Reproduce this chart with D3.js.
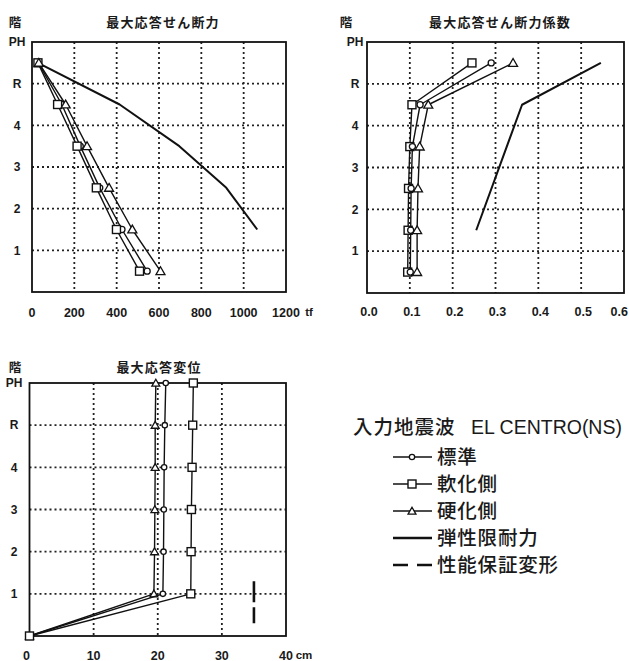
<!DOCTYPE html>
<html><head><meta charset="utf-8">
<script src="https://cdn.jsdelivr.net/npm/d3@7"></script>
<style>
body{margin:0;background:#fff}
svg{display:block}
text{font-family:"Liberation Sans",Arial,sans-serif;fill:#1a1a1a}
.jp{font-family:"Noto Sans CJK JP",sans-serif}
</style></head><body>
<svg id="c" width="629" height="661"></svg>
<script>
// ---------- DATA ----------
const floorLabels = ["1","2","3","4","R","PH"];          // floor lines 1..6
// 最大応答せん断力 (tf) : storeys 1F .. PH (bottom -> top)
const shearStd     = [544, 425, 320, 228, 141, 30];
const shearSoft    = [508, 399, 304, 213, 121, 28];
const shearHard    = [607, 474, 364, 260, 159, 32];
const shearElastic = [null, 1064, 918, 696, 414, 28];
const shearTicks   = [0, 200, 400, 600, 800, 1000, 1200];
// 最大応答せん断力係数
const coefStd     = [0.101, 0.102, 0.103, 0.106, 0.124, 0.290];
const coefSoft    = [0.095, 0.096, 0.097, 0.100, 0.105, 0.245];
const coefHard    = [0.117, 0.117, 0.119, 0.123, 0.143, 0.341];
const coefElastic = [null, 0.255, null, null, 0.362, 0.546];
const coefTicks   = [0.0, 0.1, 0.2, 0.3, 0.4, 0.5, 0.6];
// 最大応答変位 (cm) : floors 0(ground), 1, 2, 3, 4, R, PH
const dispStd  = [0, 20.8, 20.9, 20.95, 21.0, 21.1, 21.25];
const dispSoft = [0, 25.15, 25.2, 25.25, 25.35, 25.45, 25.55];
const dispHard = [0, 19.4, 19.5, 19.55, 19.6, 19.6, 19.7];
const dispLimitX = 35, dispLimitFrom = 0.3, dispLimitTo = 1.3;   // 性能保証変形
const dispTicks = [0, 10, 20, 30, 40];

const legendTitleJp = "入力地震波";
const legendTitleEn = "EL CENTRO(NS)";
const legendItems = [
  {label:"標準", marker:"circle"},
  {label:"軟化側", marker:"square"},
  {label:"硬化側", marker:"triangle"},
  {label:"弾性限耐力", marker:null},
  {label:"性能保証変形", marker:"dash"}
];

// ---------- DRAWING ----------
const svg = d3.select("#c");

function marker(g, type, x, y, s) {
  if (type === "circle") {
    g.append("circle").attr("cx", x).attr("cy", y).attr("r", s*0.38)
      .attr("fill", "#fff").attr("stroke", "#111").attr("stroke-width", 1.3);
  } else if (type === "square") {
    g.append("rect").attr("x", x - s/2).attr("y", y - s/2).attr("width", s).attr("height", s)
      .attr("fill", "#fff").attr("stroke", "#111").attr("stroke-width", 1.4);
  } else if (type === "triangle") {
    g.append("path").attr("d", d3.symbol(d3.symbolTriangle, s*s*0.55)())
      .attr("transform", `translate(${x},${y+0.8})`)
      .attr("fill", "#fff").attr("stroke", "#111").attr("stroke-width", 1.3);
  }
}

function panel(o) {
  const g = svg.append("g");
  const x = d3.scaleLinear().domain(o.xDomain).range([o.left, o.right]);
  const y = d3.scaleLinear().domain([0, 6]).range([o.bottom, o.top]);
  // grid
  const grid = g.append("g").attr("stroke", "#222").attr("stroke-width", 1.8)
    .attr("stroke-dasharray", "2,3");
  o.xGrid.forEach(v => grid.append("line").attr("x1", x(v)).attr("x2", x(v))
    .attr("y1", o.top).attr("y2", o.bottom));
  [1,2,3,4,5].forEach(v => grid.append("line").attr("x1", o.left).attr("x2", o.right)
    .attr("y1", y(v)).attr("y2", y(v)));
  // frame
  g.append("rect").attr("x", o.left).attr("y", o.top)
    .attr("width", o.right - o.left).attr("height", o.bottom - o.top)
    .attr("fill", "none").attr("stroke", "#111").attr("stroke-width", 1.8);
  // y labels
  floorLabels.forEach((l, i) => g.append("text").attr("x", o.yLabelX).attr("y", y(i + 1))
    .attr("dy", "0.36em").attr("text-anchor", "middle").attr("font-size", 12)
    .attr("font-weight", "bold").text(l));
  // x labels
  o.xTicks.forEach(v => {
    const last = o.lastAnchorEnd && v === o.xTicks[o.xTicks.length - 1];
    g.append("text").attr("x", last ? o.lastAnchorEnd : x(v) + (o.xLabelShift ? o.xLabelShift(v) : 0))
      .attr("y", o.xLabelY).attr("dy", "0.36em").attr("text-anchor", last ? "end" : "middle")
      .attr("font-size", 12.5).attr("font-weight", "bold").text(o.fmt(v));
  });
  if (o.unit) g.append("text").attr("x", o.unitX).attr("y", o.xLabelY).attr("dy", "0.36em")
    .attr("text-anchor", "middle").attr("font-size", 11.5).attr("font-weight", "bold").text(o.unit);
  // titles
  g.append("text").attr("class", "jp").attr("x", o.kaiX).attr("y", o.titleY).attr("dy", "0.36em")
    .attr("text-anchor", "middle").attr("font-size", 12.5).attr("font-weight", "bold").text("階");
  g.append("text").attr("class", "jp").attr("x", o.titleX).attr("y", o.titleY).attr("dy", "0.36em")
    .attr("text-anchor", "middle").attr("font-size", 13).attr("font-weight", "bold")
    .attr("letter-spacing", 1.2).text(o.title);
  // series
  o.series.forEach(s => {
    const pts = s.values.map((v, i) => ({v, lv: i + o.levelOffset})).filter(d => d.v !== null);
    const line = d3.line().x(d => x(d.v)).y(d => y(d.lv));
    g.append("path").attr("d", line(pts)).attr("fill", "none").attr("stroke", "#111")
      .attr("stroke-width", s.width || 1.4).attr("stroke-linejoin", "round");
    if (s.marker) pts.forEach(d => marker(g, s.marker, x(d.v), y(d.lv), s.size || 8));
  });
  if (o.extra) o.extra(g, x, y);
}

// Chart 1: 最大応答せん断力
panel({
  left: 32, right: 286, top: 42, bottom: 292, xDomain: [0, 1200],
  xGrid: [200, 400, 600, 800, 1000], xTicks: shearTicks, fmt: d => d, xLabelY: 312,
  unit: "tf", unitX: 309, yLabelX: 17, kaiX: 15, titleX: 163, titleY: 22,
  title: "最大応答せん断力", levelOffset: 0.5,
  series: [
    {values: shearElastic, marker: null, width: 2},
    {values: shearStd, marker: "circle", size: 8},
    {values: shearSoft, marker: "square", size: 8},
    {values: shearHard, marker: "triangle", size: 8}
  ]
});

// Chart 2: 最大応答せん断力係数
panel({
  left: 367, right: 624, top: 42, bottom: 293, xDomain: [0, 0.6],
  xGrid: [0.1, 0.2, 0.3, 0.4, 0.5], xTicks: coefTicks, fmt: d3.format(".1f"), xLabelY: 311,
  xLabelShift: v => 2, lastAnchorEnd: 628,
  unit: null, yLabelX: 355, kaiX: 346, titleX: 500, titleY: 22,
  title: "最大応答せん断力係数", levelOffset: 0.5,
  series: [
    {values: coefElastic, marker: null, width: 2},
    {values: coefSoft, marker: "square", size: 8},
    {values: coefStd, marker: "circle", size: 8},
    {values: coefHard, marker: "triangle", size: 8}
  ]
});

// Chart 3: 最大応答変位
panel({
  left: 29.5, right: 286, top: 383, bottom: 636, xDomain: [0, 40],
  xGrid: [10, 20, 30], xTicks: dispTicks, fmt: d => d, xLabelY: 655,
  xLabelShift: v => (v === 0 ? -3 : 0),
  unit: "cm", unitX: 304, yLabelX: 14, kaiX: 15, titleX: 159, titleY: 367,
  title: "最大応答変位", levelOffset: 0,
  series: [
    {values: dispHard, marker: "triangle", size: 7},
    {values: dispStd, marker: "circle", size: 7},
    {values: dispSoft, marker: "square", size: 8}
  ],
  extra: (g, x, y) => {
    g.append("line").attr("x1", x(dispLimitX)).attr("x2", x(dispLimitX))
      .attr("y1", y(dispLimitTo)).attr("y2", y(dispLimitFrom))
      .attr("stroke", "#111").attr("stroke-width", 2.6).attr("stroke-dasharray", "21,5");
  }
});

// Legend
const lg = svg.append("g");
lg.append("text").attr("class", "jp").attr("x", 353).attr("y", 427).attr("dy", "0.36em")
  .attr("font-size", 19.5).attr("font-weight", 500).attr("letter-spacing", 1).text(legendTitleJp);
lg.append("text").attr("x", 471).attr("y", 427).attr("dy", "0.36em")
  .attr("font-size", 19.5).text(legendTitleEn);
const rowY = d3.scaleLinear().domain([0, 4]).range([457, 565]);
legendItems.forEach((it, i) => {
  const yy = rowY(i);
  if (it.marker === "dash") {
    lg.append("line").attr("x1", 393).attr("x2", 432).attr("y1", yy).attr("y2", yy)
      .attr("stroke", "#111").attr("stroke-width", 2.6).attr("stroke-dasharray", "15,9");
  } else {
    lg.append("line").attr("x1", 393).attr("x2", 432).attr("y1", yy).attr("y2", yy)
      .attr("stroke", "#111").attr("stroke-width", it.marker ? 1.5 : 2.6);
    if (it.marker) marker(lg, it.marker, 412, yy, it.marker === "square" ? 8 : 7);
  }
  lg.append("text").attr("class", "jp").attr("x", 437).attr("y", yy).attr("dy", "0.36em")
    .attr("font-size", 19.5).attr("font-weight", 500).attr("letter-spacing", 0.8).text(it.label);
});
</script>
</body></html>
